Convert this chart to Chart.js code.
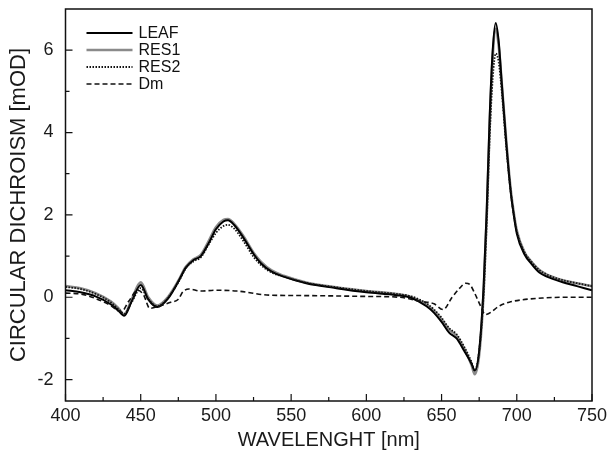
<!DOCTYPE html>
<html>
<head>
<meta charset="utf-8">
<script src="https://cdn.jsdelivr.net/npm/chart.js@4.4.1/dist/chart.umd.min.js"></script>
<style>
  html, body { margin: 0; padding: 0; background: #fff; }
  #wrap { width: 611px; height: 454px; }
</style>
</head>
<body>
<div id="wrap"><canvas id="cd"></canvas></div>
<script>
/* data */
const wl = [400, 410, 420, 430, 435, 439, 444, 450, 455, 461, 468, 475, 480, 485, 490,
  495, 500, 505, 508, 512, 518, 525, 530, 537, 545, 560, 580, 600, 620, 630,
  640, 645, 650, 655, 660, 665, 670, 672, 675, 678, 680, 682, 684, 686, 688,
  690, 693, 696, 698, 700, 705, 710, 715, 720, 730, 740, 750];

const leaf = [0.17, 0.12, 0.02, -0.17, -0.32, -0.45, -0.1, 0.3, -0.05, -0.24,
  -0.04, 0.38, 0.72, 0.9, 1.0, 1.3, 1.65, 1.84, 1.87, 1.76,
  1.46, 1.05, 0.82, 0.62, 0.5, 0.34, 0.22, 0.12, 0.05, -0.02,
  -0.22, -0.38, -0.6, -0.86, -1.0, -1.3, -1.62, -1.78, -1.3, 0.3,
  2.1, 4.4, 6.0, 6.66, 6.2, 5.2, 3.75, 2.55, 2.0, 1.55,
  1.05, 0.8, 0.6, 0.5, 0.37, 0.27, 0.17];

const res1 = [0.27, 0.22, 0.1, -0.1, -0.26, -0.42, -0.05, 0.36, 0.0, -0.2,
  0.0, 0.4, 0.74, 0.92, 1.03, 1.35, 1.7, 1.88, 1.9, 1.79,
  1.5, 1.08, 0.86, 0.65, 0.52, 0.36, 0.24, 0.15, 0.08, 0.0,
  -0.18, -0.33, -0.54, -0.78, -0.94, -1.25, -1.65, -1.87, -1.4, 0.15,
  1.95, 4.2, 5.85, 6.52, 6.1, 5.2, 3.8, 2.6, 2.05, 1.62,
  1.1, 0.85, 0.66, 0.55, 0.42, 0.34, 0.27];

const res2 = [0.25, 0.2, 0.08, -0.12, -0.28, -0.4, -0.12, 0.22, -0.05, -0.22,
  -0.02, 0.36, 0.7, 0.87, 0.97, 1.27, 1.56, 1.73, 1.76, 1.67,
  1.38, 0.98, 0.78, 0.6, 0.5, 0.35, 0.24, 0.15, 0.08, 0.02,
  -0.15, -0.3, -0.5, -0.75, -0.9, -1.2, -1.58, -1.78, -1.3, 0.1,
  1.8, 3.9, 5.3, 5.92, 5.7, 5.0, 3.65, 2.55, 2.0, 1.6,
  1.1, 0.85, 0.66, 0.55, 0.42, 0.34, 0.27];

const dmWl = [400, 410, 420, 430, 437, 442, 448, 452, 456, 462, 470, 475, 478, 482, 490,
  500, 514, 536, 560, 600, 622, 636, 645, 651, 657, 662, 666, 669, 672, 676,
  679, 689, 695, 702, 717, 733, 750];
const dm = [0.1, 0.08, -0.03, -0.2, -0.36, -0.1, 0.17, 0.05, -0.27, -0.22, -0.12, -0.05, 0.13, 0.2, 0.15,
  0.17, 0.15, 0.05, 0.04, 0.02, 0.0, -0.1, -0.16, -0.3, 0.0, 0.22, 0.34, 0.3, 0.1, -0.22,
  -0.42, -0.2, -0.12, -0.07, -0.02, 0.0, 0.0];

const xTicks = [400, 450, 500, 550, 600, 650, 700, 750];
const yTicks = [-2, 0, 2, 4, 6];

const pts = (xs, ys) => xs.map((x, i) => ({ x, y: ys[i] }));

/* =======================
   FRAME, INNER TICKS, LEGEND
======================= */

const frame = {
  id: "frame",
  afterDatasetsDraw(chart) {
    const { ctx, chartArea: a, scales: { x, y } } = chart;
    ctx.save();
    ctx.strokeStyle = "#111";
    ctx.lineWidth = 1.5;
    ctx.strokeRect(a.left, a.top, a.right - a.left, a.bottom - a.top);

    ctx.lineWidth = 1.2;
    ctx.beginPath();
    for (let i = 0; i < xTicks.length; i++) {
      let px = x.getPixelForValue(xTicks[i]);
      ctx.moveTo(px, a.bottom); ctx.lineTo(px, a.bottom - 7);
      if (i < xTicks.length - 1) {
        px = x.getPixelForValue((xTicks[i] + xTicks[i + 1]) / 2);
        ctx.moveTo(px, a.bottom); ctx.lineTo(px, a.bottom - 4);
      }
    }
    for (let i = 0; i < yTicks.length; i++) {
      let py = y.getPixelForValue(yTicks[i]);
      ctx.moveTo(a.left, py); ctx.lineTo(a.left + 7, py);
      if (i < yTicks.length - 1) {
        py = y.getPixelForValue((yTicks[i] + yTicks[i + 1]) / 2);
        ctx.moveTo(a.left, py); ctx.lineTo(a.left + 4, py);
      }
    }
    ctx.stroke();

    // legend, top left inside the frame
    ctx.font = "16px Arial, 'Liberation Sans', sans-serif";
    ctx.fillStyle = "#111";
    ctx.textBaseline = "middle";
    chart.data.datasets.forEach((ds, row) => {
      const ly = a.top + 24 + row * 17;
      ctx.beginPath();
      ctx.strokeStyle = ds.borderColor;
      ctx.lineWidth = ds.borderWidth;
      ctx.setLineDash(ds.borderDash || []);
      ctx.moveTo(a.left + 21, ly);
      ctx.lineTo(a.left + 67, ly);
      ctx.stroke();
      ctx.setLineDash([]);
      ctx.fillText(ds.label, a.left + 73, ly + 1);
    });
    ctx.restore();
  }
};

const font = "Arial, 'Liberation Sans', sans-serif";

new Chart(document.getElementById("cd"), {
  type: "line",
  data: {
    datasets: [
      { label: "LEAF", data: pts(wl, leaf), borderColor: "#000", borderWidth: 2, order: 2 },
      { label: "RES1", data: pts(wl, res1), borderColor: "#8a8a8a", borderWidth: 2.6, order: 3 },
      { label: "RES2", data: pts(wl, res2), borderColor: "#111", borderWidth: 1.8, borderDash: [1.5, 1.5], order: 1 },
      { label: "Dm", data: pts(dmWl, dm), borderColor: "#111", borderWidth: 1.6, borderDash: [5, 3], order: 0 }
    ]
  },
  options: {
    responsive: true,
    maintainAspectRatio: false,
    animation: false,
    devicePixelRatio: 1,
    layout: { padding: { top: 9, right: 19, bottom: 0, left: 0 } },
    elements: {
      point: { radius: 0 },
      line: { cubicInterpolationMode: "monotone", fill: false }
    },
    plugins: { legend: { display: false }, tooltip: { enabled: false } },
    scales: {
      x: {
        type: "linear",
        min: 400, max: 750,
        grid: { display: false, drawTicks: false },
        border: { display: false },
        afterBuildTicks: s => { s.ticks = xTicks.map(v => ({ value: v })); },
        afterFit: s => { s.height = 53; s.paddingLeft = 0; s.paddingRight = 0; },
        ticks: { padding: 4, color: "#1a1a1a", font: { family: font, size: 18 }, maxRotation: 0 },
        title: { display: true, text: "WAVELENGHT [nm]", color: "#1a1a1a",
          font: { family: font, size: 20 }, padding: { top: 0, bottom: 2 } }
      },
      y: {
        type: "linear",
        min: -2.52, max: 7,
        grid: { display: false, drawTicks: false },
        border: { display: false },
        afterBuildTicks: s => { s.ticks = yTicks.map(v => ({ value: v })); },
        afterFit: s => { s.width = 65.5; s.paddingTop = 0; s.paddingBottom = 0; },
        ticks: { padding: 12, color: "#1a1a1a", font: { family: font, size: 18 } },
        title: { display: true, text: "CIRCULAR DICHROISM [mOD]", color: "#1a1a1a",
          font: { family: font, size: 22 }, padding: { top: 6, bottom: 0 } }
      }
    }
  },
  plugins: [frame]
});
</script>
</body>
</html>
